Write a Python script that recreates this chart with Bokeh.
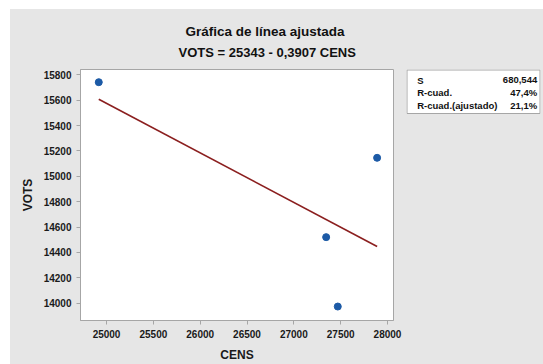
from bokeh.plotting import figure
from bokeh.models import Range1d, FixedTicker, Title, ColumnDataSource, Spacer
from bokeh.layouts import row, column
from bokeh.embed import file_html
from bokeh.resources import INLINE
from bokeh.core.properties import value

# ---- data ----
cens = [24917, 27345, 27469, 27889]
vots = [15742, 14521, 13974, 15146]
intercept = 25343
slope = -0.3907
x_ticks = [25000, 25500, 26000, 26500, 27000, 27500, 28000]
y_ticks = [14000, 14200, 14400, 14600, 14800, 15000, 15200, 15400, 15600, 15800]
title_text = "Gráfica de línea ajustada"
subtitle_text = "VOTS = 25343 - 0,3907 CENS"
x_label = "CENS"
y_label = "VOTS"
stat_names = ["S", "R-cuad.", "R-cuad.(ajustado)"]
stat_values = ["680,544", "47,4%", "21,1%"]

FONT = "Liberation Sans"
BG = "#e6e6e6"
FRAME = "#a6a6a6"
TXT = "#111111"

fit_x = [min(cens), max(cens)]
fit_y = [intercept + slope * x for x in fit_x]

p = figure(width=396, height=355, output_backend="svg", toolbar_location=None,
           x_range=Range1d(24722, 28064), y_range=Range1d(13864, 15842),
           min_border_left=70, min_border_right=13, min_border_top=60,
           min_border_bottom=44)
p.title.text = title_text
p.title.align = "left"
p.title.offset = 105
p.title.text_font = FONT
p.title.text_font_style = "bold"
p.title.text_font_size = "13.5px"
p.title.text_color = TXT
p.title.standoff = -10
p.add_layout(Title(text=subtitle_text, align="left", offset=98, text_font=FONT,
                   text_font_style="bold", text_font_size="13px",
                   text_color=TXT, standoff=19), "above")

p.background_fill_color = "white"
p.border_fill_color = BG
p.outline_line_color = FRAME
p.outline_line_width = 1
p.grid.visible = False

for ax in (p.xaxis[0], p.yaxis[0]):
    ax.axis_line_color = FRAME
    ax.major_tick_line_color = FRAME
    ax.major_tick_in = 0
    ax.major_tick_out = 4
    ax.minor_tick_line_color = None
    ax.major_label_text_font = FONT
    ax.major_label_text_font_style = "bold"
    ax.major_label_text_font_size = "10px"
    ax.major_label_text_color = "#1a1a1a"
    ax.axis_label_text_font = FONT
    ax.axis_label_text_font_style = "bold"
    ax.axis_label_text_font_size = "12px"
    ax.axis_label_text_color = "#1a1a1a"

p.xaxis.ticker = FixedTicker(ticks=x_ticks)
p.yaxis.ticker = FixedTicker(ticks=y_ticks)
p.xaxis.axis_label = x_label
p.yaxis.axis_label = y_label
p.xaxis.major_label_standoff = 5
p.yaxis.major_label_standoff = 5
p.xaxis.axis_label_standoff = 7
p.yaxis.axis_label_standoff = 6

p.line(fit_x, fit_y, line_color="#8b1f1f", line_width=1.6)
p.scatter(cens, vots, size=7, marker="circle", fill_color="#1c5aa6",
          line_color="#1c5aa6")

# ---- statistics box ----
s = figure(width=137, height=355, output_backend="svg", toolbar_location=None,
           x_range=Range1d(0, 134), y_range=Range1d(0, 251),
           min_border_left=0, min_border_right=3, min_border_top=60,
           min_border_bottom=44)
s.title.visible = False
s.axis.visible = False
s.grid.visible = False
s.background_fill_color = BG
s.border_fill_color = BG
s.outline_line_color = None

s.quad(left=0.5, right=133.5, bottom=207, top=250.5, fill_color="white",
       line_color=FRAME, line_width=1)
row_y = [240.3 - 12.5 * i for i in range(len(stat_names))]
src = ColumnDataSource(dict(y=row_y, n=stat_names, v=stat_values))
s.text(x=10.7, y="y", text="n", source=src, text_font=value(FONT),
       text_font_style="bold", text_font_size="9.5px", text_baseline="middle",
       text_align="left", text_color=TXT)
s.text(x=130.7, y="y", text="v", source=src, text_font=value(FONT),
       text_font_style="bold", text_font_size="9.5px", text_baseline="middle",
       text_align="right", text_color=TXT)

charts = row(p, s, spacing=0, styles={"background-color": BG})
layout = column(Spacer(height=9), row(Spacer(width=10), charts, spacing=0),
                spacing=0)
open("out.html", "w").write(file_html(layout, INLINE))
